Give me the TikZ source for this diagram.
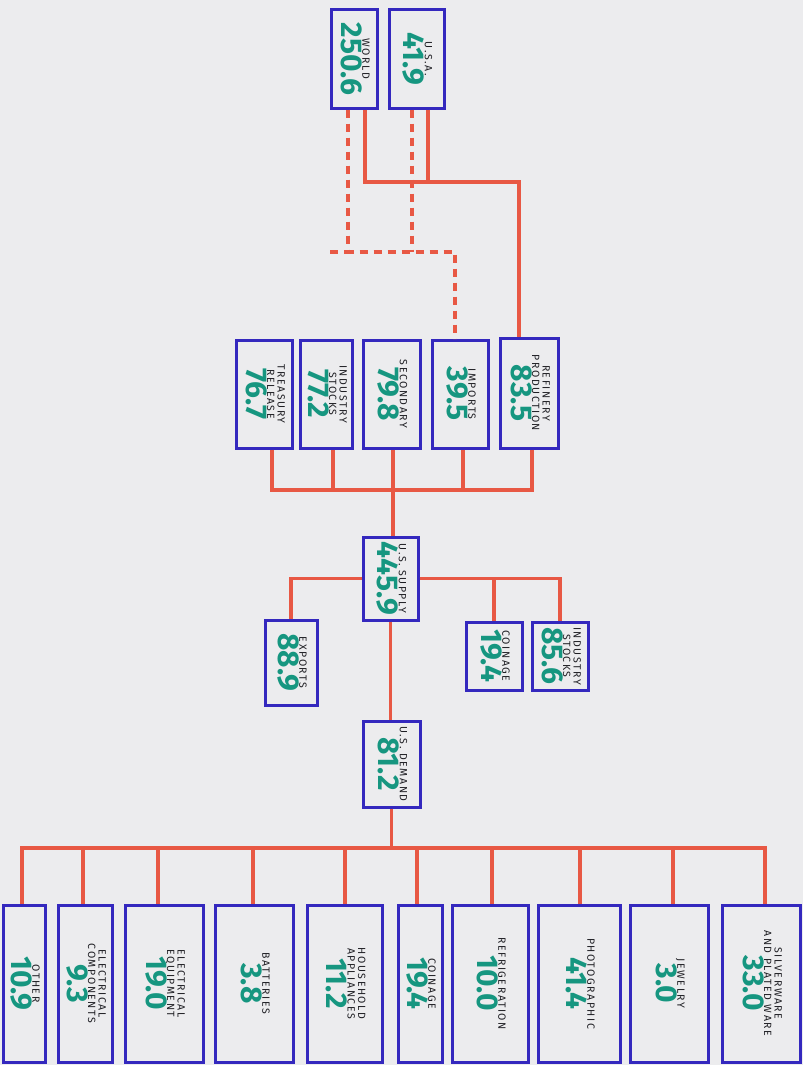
\documentclass[tikz,border=0pt]{standalone}
\usepackage{fontspec}
\setmainfont{Fira Sans}
\newfontfamily\labelfam{Fira Sans}[LetterSpace=15]
\newfontfamily\numfam{Fira Sans}
\usepackage{graphicx}
\definecolor{boxblue}{RGB}{52,40,190}
\definecolor{linkred}{RGB}{232,88,68}
\definecolor{numteal}{RGB}{22,150,128}
\definecolor{inkgray}{RGB}{30,30,35}
\definecolor{paper}{RGB}{236,236,238}
\newcommand{\labelfont}{\labelfam\fontsize{10.5}{10.5}\selectfont\color{inkgray}}
\newcommand{\numfont}{\numfam\bfseries\fontsize{30}{30}\selectfont\color{numteal}}
\newcommand{\boxtext}[2]{\rotatebox{-90}{\begin{tabular}{@{}c@{}}#1\\[-3pt]{\numfont #2}\end{tabular}}}
\tikzset{
  box/.style={draw=boxblue,line width=3pt,inner sep=0pt,font=\labelfont},
  link/.style={draw=linkred,line width=3.4pt},
  dlink/.style={link,dash pattern=on 8pt off 6pt}
}
\begin{document}
\begin{tikzpicture}[x=1pt,y=-1pt]
  \useasboundingbox (0,0) rectangle (803,1065);
  \fill[paper] (0,0) rectangle (803,1065);
  % sources
  \node[box,minimum width=46pt,minimum height=98pt] (world) at (354,59) {\boxtext{WORLD}{250.6}};
  \node[box,minimum width=55pt,minimum height=98pt] (usa) at (416.5,59) {\boxtext{U.S.A.}{41.9}};
  % supply components
  \node[box,minimum width=56pt,minimum height=108pt] (treasury) at (264,394) {\boxtext{TREASURY\\RELEASE}{76.7}};
  \node[box,minimum width=52pt,minimum height=108pt] (stocks) at (326,394) {\boxtext{INDUSTRY\\STOCKS}{77.2}};
  \node[box,minimum width=57pt,minimum height=108pt] (secondary) at (391.5,394) {\boxtext{SECONDARY}{79.8}};
  \node[box,minimum width=56pt,minimum height=108pt] (imports) at (460,394) {\boxtext{IMPORTS}{39.5}};
  \node[box,minimum width=58pt,minimum height=110pt] (refinery) at (529,393) {\boxtext{REFINERY\\PRODUCTION}{83.5}};
  % totals
  \node[box,minimum width=55pt,minimum height=83pt] (supply) at (390.5,578.5) {\boxtext{U.S. SUPPLY}{445.9}};
  \node[box,minimum width=52pt,minimum height=85pt] (exports) at (291,662.5) {\boxtext{EXPORTS}{88.9}};
  \node[box,minimum width=56pt,minimum height=68pt] (coinage) at (494,656) {\boxtext{COINAGE}{19.4}};
  \node[box,minimum width=56pt,minimum height=68pt] (stockpile) at (560,656) {\boxtext{INDUSTRY\\STOCKS}{85.6}};
  \node[box,minimum width=57pt,minimum height=86pt] (demand) at (391.5,764) {\boxtext{U.S. DEMAND}{81.2}};
  % end uses
  \node[box,minimum width=42pt,minimum height=157pt] (other) at (24,983.5) {\boxtext{OTHER}{10.9}};
  \node[box,minimum width=54pt,minimum height=157pt] (elcomp) at (85,983.5) {\boxtext{ELECTRICAL\\COMPONENTS}{9.3}};
  \node[box,minimum width=78pt,minimum height=157pt] (eleq) at (164,983.5) {\boxtext{ELECTRICAL\\EQUIPMENT}{19.0}};
  \node[box,minimum width=78pt,minimum height=157pt] (batteries) at (254,983.5) {\boxtext{BATTERIES}{3.8}};
  \node[box,minimum width=75pt,minimum height=157pt] (household) at (344.5,983.5) {\boxtext{HOUSEHOLD\\APPLIANCES}{11.2}};
  \node[box,minimum width=44pt,minimum height=157pt] (coins) at (420,983.5) {\boxtext{COINAGE}{19.4}};
  \node[box,minimum width=76pt,minimum height=157pt] (refrig) at (490,983.5) {\boxtext{REFRIGERATION}{10.0}};
  \node[box,minimum width=82pt,minimum height=157pt] (photo) at (579,983.5) {\boxtext{PHOTOGRAPHIC}{41.4}};
  \node[box,minimum width=78pt,minimum height=157pt] (jewelry) at (669,983.5) {\boxtext{JEWELRY}{3.0}};
  \node[box,minimum width=78pt,minimum height=157pt] (silver) at (761,983.5) {\boxtext{SILVERWARE\\AND PLATED WARE}{33.0}};
  % top connectors
  \coordinate (solidjoin) at (519,182);
  \coordinate (dashjoin) at (455,252);
  \coordinate (dashstub) at (330,252);
  \coordinate (worldsolid) at ([xshift=11pt]world.south);
  \coordinate (usasolid) at ([xshift=11.5pt]usa.south);
  \coordinate (worlddash) at ([xshift=-6pt]world.south);
  \coordinate (usadash) at ([xshift=-4.5pt]usa.south);
  \draw[link] (worldsolid) |- (solidjoin) -- (solidjoin |- refinery.north);
  \draw[link] (usasolid) -- (usasolid |- solidjoin);
  \draw[dlink] (worlddash) |- (dashjoin) -- (dashjoin |- imports.north);
  \draw[dlink] (dashstub) -- (worlddash |- dashstub);
  \draw[dlink] (usadash) -- (usadash |- dashjoin);
  % supply bus
  \coordinate (midbus) at (393,490);
  \foreach \n/\dx in {treasury/8,stocks/7,secondary/1.5,imports/3,refinery/3}
    \draw[link] ([xshift=\dx pt]\n.south) |- (midbus);
  \draw[link] (midbus) -- (midbus |- supply.north);
  \draw[link] (supply.west) -| (exports.north);
  \draw[link] (supply.east) -| (stockpile.north);
  \draw[link] (coinage.north) |- (supply.east);
  \draw[link] (supply.south) -- (supply.south |- demand.north);
  % demand bus
  \coordinate (lowbus) at (393,848);
  \draw[link] (demand.south) -- (demand.south |- lowbus);
  \foreach \n/\dx in {other/-2,elcomp/-2,eleq/-6,batteries/-1,household/0.5,coins/-3,refrig/2,photo/1,jewelry/4,silver/4}
    \draw[link] ([xshift=\dx pt]\n.north) |- (lowbus);
\end{tikzpicture}
\end{document}
